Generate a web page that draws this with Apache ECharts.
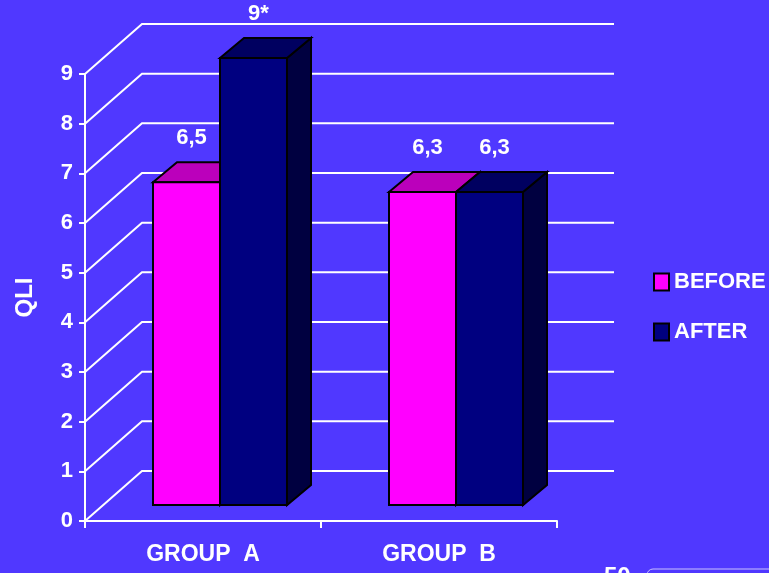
<!DOCTYPE html>
<html>
<head>
<meta charset="utf-8">
<script src="https://cdn.jsdelivr.net/npm/echarts@6/dist/echarts.min.js"></script>
<style>
html,body{margin:0;padding:0;background:#5038FF;}
#c{width:769px;height:573px;}
</style>
</head>
<body>
<div id="c"></div>
<script>
var categories = ['GROUP  A', 'GROUP  B'];
var beforeValues = [6.5, 6.3];
var afterValues = [9, 6.3];
var beforeLabels = ['6,5', '6,3'];
var afterLabels = ['9*', '6,3'];
var yTicks = [0, 1, 2, 3, 4, 5, 6, 7, 8, 9];

var SANS = "'Liberation Sans',Arial,sans-serif";

// oblique projection offsets
var WALL_DX = 57, WALL_DY = -50;
var BAR_DX = 17, BAR_DY = -16;
var TOP_DX = 24, TOP_DY = -20;
var BAR_W = 67;

var chart = echarts.init(document.getElementById('c'));

var pinkCols = {front: '#FF00FF', top: '#BB00BB', side: '#880088'};
var navyCols = {front: '#000080', top: '#000060', side: '#000040'};

function makeBarRender(cols, labels, side) {
  return function (params, api) {
    var cat = api.value(0);
    var v = api.value(1);
    var base = api.coord([cat, 0]);
    var top = api.coord([cat, v]);
    var cx = base[0] + BAR_DX;
    var L = side === 0 ? cx - BAR_W : cx;
    var R = L + BAR_W;
    var B = base[1] + BAR_DY;
    var T = top[1] + BAR_DY;
    var stroke = {stroke: '#000', lineWidth: 2, lineJoin: 'miter'};
    var children = [
      {type: 'polygon', shape: {points: [[R, T], [R + TOP_DX, T + TOP_DY], [R + TOP_DX, B + TOP_DY], [R, B]]},
        style: Object.assign({fill: cols.side}, stroke)},
      {type: 'polygon', shape: {points: [[L, T], [L + TOP_DX, T + TOP_DY], [R + TOP_DX, T + TOP_DY], [R, T]]},
        style: Object.assign({fill: cols.top}, stroke)},
      {type: 'rect', shape: {x: L, y: T, width: BAR_W, height: B - T},
        style: Object.assign({fill: cols.front}, stroke)},
      {type: 'text', x: (L + R) / 2 + 5, y: T - 44,
        style: {text: labels[params.dataIndex], fill: '#fff', font: 'bold 22px ' + SANS,
          align: 'center', verticalAlign: 'middle'}}
    ];
    return {type: 'group', children: children};
  };
}

function gridRender(params, api) {
  var cs = params.coordSys;
  var v = api.value(0);
  var y = api.coord([0, v])[1];
  var x0 = cs.x, x1 = cs.x + cs.width;
  return {
    type: 'polyline',
    shape: {points: [[x0, y], [x0 + WALL_DX, y + WALL_DY], [x1 + WALL_DX, y + WALL_DY]]},
    style: {stroke: '#fff', lineWidth: 2, fill: null}
  };
}

var option = {
  backgroundColor: '#5038FF',
  animation: false,
  grid: {left: 85, right: 212, top: 74, bottom: 52},
  legend: {
    orient: 'vertical', left: 648, top: 266, itemWidth: 15, itemHeight: 17, itemGap: 28,
    icon: 'rect', selectedMode: false,
    textStyle: {color: '#fff', fontSize: 22, fontWeight: 'bold', fontFamily: SANS, padding: [0, 0, 0, 0]},
    data: [
      {name: 'BEFORE', itemStyle: {color: '#FF00FF', borderColor: '#000', borderWidth: 2}},
      {name: 'AFTER', itemStyle: {color: '#000080', borderColor: '#000', borderWidth: 2}}
    ]
  },
  xAxis: {
    type: 'category', data: categories, boundaryGap: true,
    axisLine: {lineStyle: {color: '#fff', width: 2}},
    axisTick: {show: true, length: 7, lineStyle: {color: '#fff', width: 2}},
    axisLabel: {color: '#fff', fontSize: 23, fontWeight: 'bold', fontFamily: SANS, margin: 22}
  },
  yAxis: {
    type: 'value', min: 0, max: 9, interval: 1,
    name: 'QLI', nameLocation: 'middle', nameGap: 48, nameRotate: 90,
    nameTextStyle: {color: '#fff', fontSize: 24, fontWeight: 'bold', fontFamily: SANS},
    axisLine: {show: true, lineStyle: {color: '#fff', width: 2}},
    axisTick: {show: true, length: 6, lineStyle: {color: '#fff', width: 2}},
    axisLabel: {color: '#fff', fontSize: 22, fontWeight: 'bold', fontFamily: SANS, margin: 12},
    splitLine: {show: false}
  },
  series: [
    {type: 'custom', name: 'wall', renderItem: gridRender, data: yTicks.map(function (t) { return [t]; }),
      encode: {y: 0}, silent: true, z: 1},
    {type: 'custom', name: 'BEFORE', renderItem: makeBarRender(pinkCols, beforeLabels, 0),
      itemStyle: {color: '#FF00FF'},
      data: beforeValues.map(function (v, i) { return [i, v]; }), encode: {x: 0, y: 1}, z: 2},
    {type: 'custom', name: 'AFTER', renderItem: makeBarRender(navyCols, afterLabels, 1),
      itemStyle: {color: '#000080'},
      data: afterValues.map(function (v, i) { return [i, v]; }), encode: {x: 0, y: 1}, z: 3}
  ],
  graphic: [
    {type: 'text', left: 604, top: 565, style: {text: '50', fill: '#fff', font: 'bold 24px ' + SANS}},
    {type: 'rect', shape: {x: 647, y: 569, width: 140, height: 40, r: 6},
      style: {fill: null, stroke: '#C8C0FF', lineWidth: 1}}
  ]
};
chart.setOption(option);
</script>
</body>
</html>
